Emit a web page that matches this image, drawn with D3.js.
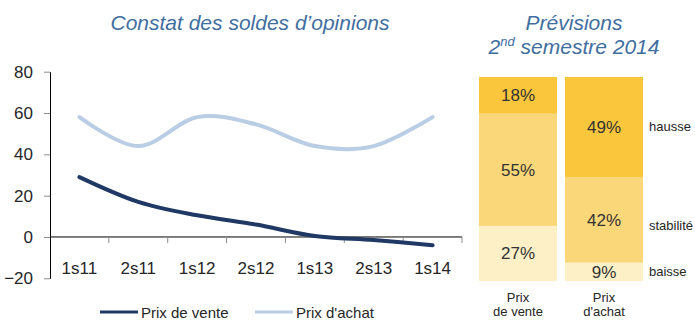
<!DOCTYPE html>
<html>
<head>
<meta charset="utf-8">
<script src="https://cdn.jsdelivr.net/npm/d3@7"></script>
<style>
  html, body { margin: 0; padding: 0; background: #fff; }
  svg { display: block; font-family: Arial, "Liberation Sans", sans-serif; }
</style>
</head>
<body>
<svg id="chart" width="695" height="320"></svg>
<script>
// Semester balances of opinion (%)
const semesters = ["1s11", "2s11", "1s12", "2s12", "1s13", "2s13", "1s14"];
const prixVente = [29, 17, 10.5, 6, 0.5, -1.5, -4];
const prixAchat = [58, 44, 58, 54.5, 44, 44, 58];
const yTicks = [-20, 0, 20, 40, 60, 80];

// Forecast for the second half of 2014 (% of answers)
const forecastGroups = ["Prix\nde vente", "Prix\nd'achat"];
const forecastKeys = ["baisse", "stabilité", "hausse"];
const baisse = [27, 9];
const stabilite = [55, 42];
const hausse = [18, 49];

const svg = d3.select("#chart");
const textColor = "#262626";
const titleColor = "#3f6e9f";

// ---------- Line chart ----------
const x = d3.scaleBand().domain(semesters).range([50, 462]);
const y = d3.scaleLinear().domain([-20, 80]).range([278.3, 71.7]);

svg.append("text")
  .attr("x", 250).attr("y", 29.5)
  .attr("text-anchor", "middle")
  .attr("font-size", 21).attr("font-style", "italic")
  .attr("fill", titleColor)
  .text("Constat des soldes d\u2019opinions");

// y axis
const yAxis = svg.append("g")
  .attr("transform", "translate(50,0)")
  .call(d3.axisLeft(y).tickValues(yTicks).tickSize(6).tickPadding(11).tickSizeOuter(0));
yAxis.select(".domain").attr("stroke", "#000");
yAxis.selectAll(".tick line").attr("stroke", "#8c8c8c");
yAxis.selectAll(".tick text")
  .attr("font-size", 17).attr("fill", textColor)
  .attr("font-family", "Arial, 'Liberation Sans', sans-serif");

// x axis on the zero line, ticks at category boundaries
const xAxisG = svg.append("g").attr("transform", `translate(0,${y(0)})`);
xAxisG.append("line")
  .attr("x1", x.range()[0]).attr("x2", x.range()[1])
  .attr("stroke", "#000");
const boundaries = semesters.map(s => x(s) + x.bandwidth()).slice(0);
xAxisG.selectAll(".bt").data(boundaries).join("line")
  .attr("x1", d => d).attr("x2", d => d)
  .attr("y1", 0).attr("y2", 6)
  .attr("stroke", "#8c8c8c");
svg.selectAll(".xlab").data(semesters).join("text")
  .attr("x", d => x(d) + x.bandwidth() / 2)
  .attr("y", 274)
  .attr("text-anchor", "middle")
  .attr("font-size", 17).attr("fill", textColor)
  .text(d => d);

const line = d3.line()
  .x((d, i) => x(semesters[i]) + x.bandwidth() / 2)
  .y(d => y(d))
  .curve(d3.curveCatmullRom.alpha(0));

svg.append("path").datum(prixAchat)
  .attr("d", line).attr("fill", "none")
  .attr("stroke", "#b9cde5").attr("stroke-width", 4)
  .attr("stroke-linecap", "round");
svg.append("path").datum(prixVente)
  .attr("d", line).attr("fill", "none")
  .attr("stroke", "#1f3864").attr("stroke-width", 4)
  .attr("stroke-linecap", "round");

// legend
const legend = [
  { label: "Prix de vente", color: "#1f3864", x: 100 },
  { label: "Prix d'achat", color: "#b9cde5", x: 255 }
];
const lg = svg.selectAll(".lg").data(legend).join("g")
  .attr("transform", d => `translate(${d.x},312)`);
lg.append("line").attr("x1", 0).attr("x2", 38)
  .attr("stroke", d => d.color).attr("stroke-width", 3);
lg.append("text").attr("x", 41).attr("y", 6)
  .attr("font-size", 15).attr("fill", textColor)
  .text(d => d.label);

// ---------- Stacked forecast bars ----------
const rows = forecastGroups.map((g, i) => ({
  group: g, "baisse": baisse[i], "stabilité": stabilite[i], "hausse": hausse[i]
}));
const series = d3.stack().keys(forecastKeys)(rows);

const xb = d3.scaleBand().domain(forecastGroups).range([479, 643])
  .paddingInner(8 / 86).paddingOuter(0);
const yb = d3.scaleLinear().domain([0, 100]).range([281, 77]);
const fill = d3.scaleOrdinal().domain(forecastKeys)
  .range(["#fdefc6", "#fad779", "#f9c63c"]);

const tt = svg.append("text")
  .attr("x", 574).attr("text-anchor", "middle")
  .attr("font-size", 21).attr("font-style", "italic")
  .attr("fill", titleColor);
tt.append("tspan").attr("x", 574).attr("y", 30).text("Prévisions");
const t2 = svg.append("text")
  .attr("x", 574).attr("y", 53.5).attr("text-anchor", "middle")
  .attr("font-size", 21).attr("font-style", "italic")
  .attr("fill", titleColor);
t2.append("tspan").text("2");
t2.append("tspan").attr("font-size", 13).attr("dy", -8).text("nd");
t2.append("tspan").attr("dy", 8).text(" semestre 2014");

const layers = svg.selectAll(".layer").data(series).join("g")
  .attr("fill", d => fill(d.key));
layers.selectAll("rect").data(d => d).join("rect")
  .attr("x", d => xb(d.data.group))
  .attr("width", xb.bandwidth())
  .attr("y", d => yb(d[1]))
  .attr("height", d => yb(d[0]) - yb(d[1]));

layers.selectAll(".pct").data(d => d).join("text")
  .attr("x", d => xb(d.data.group) + xb.bandwidth() / 2)
  .attr("y", d => (yb(d[0]) + yb(d[1])) / 2 + 6)
  .attr("text-anchor", "middle")
  .attr("font-size", 17).attr("fill", "#333")
  .text(d => (d[1] - d[0]) + "%");

// series names beside the second bar
const lastSeries = series.map(s => ({ key: s.key, seg: s[s.length - 1] }));
const nudge = { "baisse": 0, "stabilité": 6, "hausse": 0 };
svg.selectAll(".skey").data(lastSeries).join("text")
  .attr("x", 649)
  .attr("y", d => (yb(d.seg[0]) + yb(d.seg[1])) / 2 + 4 + nudge[d.key])
  .attr("font-size", 13).attr("fill", textColor)
  .text(d => d.key);

// group labels under the bars
const gl = svg.selectAll(".glab").data(forecastGroups).join("text")
  .attr("text-anchor", "middle")
  .attr("font-size", 13).attr("fill", textColor);
gl.each(function (d) {
  const parts = d.split("\n");
  const cx = xb(d) + xb.bandwidth() / 2;
  d3.select(this).selectAll("tspan").data(parts).join("tspan")
    .attr("x", cx)
    .attr("y", (p, i) => 302 + i * 13.5)
    .text(p => p);
});
</script>
</body>
</html>
